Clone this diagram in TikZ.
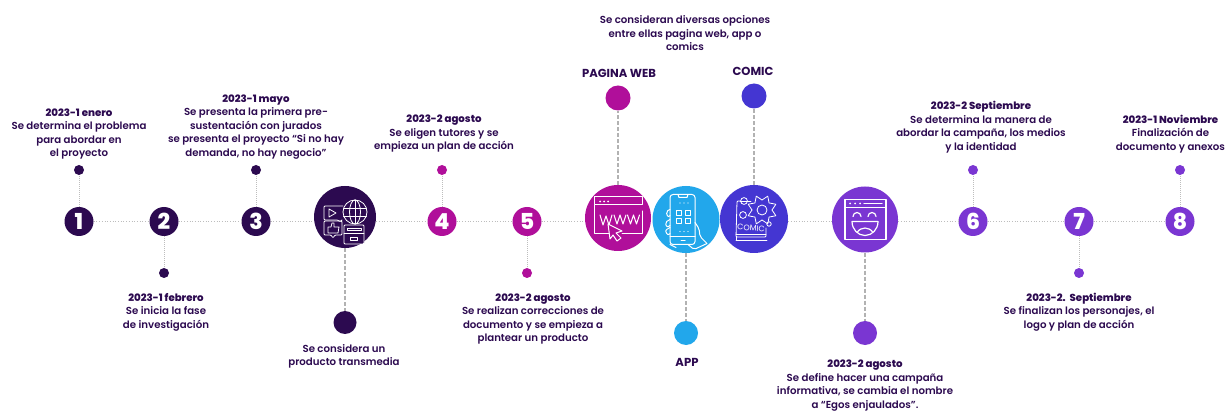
\documentclass[tikz,border=0pt]{standalone}
\usepackage{fontspec}
\setmainfont{Poppins SemiBold}[BoldFont={Poppins ExtraBold}]
\newfontfamily\pb{Poppins Bold}
\newfontfamily\pl{Poppins}
\usetikzlibrary{calc}
\definecolor{cdark}{HTML}{2C0A50}
\definecolor{cmag}{HTML}{B00F9A}
\definecolor{cblue}{HTML}{22A7EB}
\definecolor{cind}{HTML}{4436D2}
\definecolor{cvio}{HTML}{7A36D2}
\definecolor{cgrayl}{HTML}{BDBDBD}
\newcommand{\hd}[1]{{\fontsize{10.2}{13.5}\selectfont\bfseries #1}}
\tikzset{
  x=1pt,y=-1pt,
  numdisc/.style={circle,minimum size=29pt,inner sep=0pt,text=white,font=\fontsize{22}{22}\selectfont\bfseries},
  dotsmall/.style={circle,minimum size=10pt,inner sep=0pt},
  dotbig/.style={circle,minimum size=24pt,inner sep=0pt},
  icondisc/.style={circle,minimum size=66pt,inner sep=0pt},
  caption/.style={align=center,text=cdark,inner sep=0pt,yshift=-1pt,font=\fontsize{10.2}{13.5}\selectfont},
  label/.style={align=center,text=cdark,inner sep=0pt,font=\fontsize{11.6}{13}\selectfont\pb},
  hline/.style={cgrayl,line width=0.7pt,dotted},
  vthin/.style={cgrayl,line width=1pt,densely dotted},
  vthick/.style={gray!60,line width=1.2pt,dash pattern=on 4pt off 2pt},
  ico/.style={white,line width=0.9pt,line join=round,line cap=round},
}
\begin{document}
\begin{tikzpicture}
\useasboundingbox (0,0) rectangle (1230,411);
\fill[white] (0,0) rectangle (1230,411);
% discs
\node[numdisc,fill=cdark] (n1) at (79,221.5) {1};
\node[numdisc,fill=cdark] (n2) at (164,221.5) {2};
\node[numdisc,fill=cdark] (n3) at (256,221.5) {3};
\node[icondisc,fill=cdark,minimum size=62pt] (tm) at (345,217) {};
\node[numdisc,fill=cmag] (n4) at (442,221.5) {4};
\node[numdisc,fill=cmag] (n5) at (527,221.5) {5};
\node[icondisc,fill=cmag] (www) at (618,218) {};
\node[icondisc,fill=cblue,minimum size=67pt] (app) at (686,219.5) {};
\node[icondisc,fill=cind,minimum size=68pt] (com) at (754,219) {};
\node[icondisc,fill=cvio] (face) at (865,219.5) {};
\node[numdisc,fill=cvio] (n6) at (973,221.5) {6};
\node[numdisc,fill=cvio] (n7) at (1079,221.5) {7};
\node[numdisc,fill=cvio] (n8) at (1180,221.5) {8};
% dots
\node[dotsmall,fill=cdark] (d1) at (79,170) {};
\node[dotsmall,fill=cdark] (d2) at (164,273) {};
\node[dotsmall,fill=cdark] (d3) at (256,170) {};
\node[dotbig,fill=cdark,minimum size=23pt] (dtm) at (345,322.5) {};
\node[dotsmall,fill=cmag] (d4) at (442,170) {};
\node[dotsmall,fill=cmag] (d5) at (527,273) {};
\node[dotbig,fill=cmag,minimum size=25pt] (dwww) at (618,98) {};
\node[dotbig,fill=cblue] (dapp) at (686,333) {};
\node[dotbig,fill=cind,minimum size=25pt] (dcom) at (754,96) {};
\node[dotbig,fill=cvio] (dface) at (865,333) {};
\node[dotsmall,fill=cvio] (d6) at (973,170) {};
\node[dotsmall,fill=cvio] (d7) at (1079,273) {};
\node[dotsmall,fill=cvio] (d8) at (1180,170) {};
% connectors
\draw[hline] (n1)--(n2);
\draw[hline] (n2)--(n3);
\draw[hline] (n3)--(n3-|tm.west);
\draw[hline] (n3-|tm.east)--(n4);
\draw[hline] (n4)--(n5);
\draw[hline] (n5)--(n5-|www.west);
\draw[hline] (n6-|com.east)--(n6-|face.west);
\draw[hline] (n6-|face.east)--(n6);
\draw[hline] (n6)--(n7);
\draw[hline] (n7)--(n8);
\draw[vthin] (n1)--(d1);
\draw[vthin] (n2)--(d2);
\draw[vthin] (n3)--(d3);
\draw[vthin] (n4)--(d4);
\draw[vthin] (n5)--(d5);
\draw[vthin] (n6)--(d6);
\draw[vthin] (n7)--(d7);
\draw[vthin] (n8)--(d8);
\draw[vthick] (tm)--(dtm);
\draw[vthick] (www)--(dwww);
\draw[vthick] (app)--(dapp);
\draw[vthick] (com)--(dcom);
\draw[vthick] (face)--(dface);
% captions
\node[caption] (t1) at (79,133) {\hd{2023-1 enero}\\Se determina el problema\\para abordar en\\el proyecto};
\node[caption] (t2) at (166,311) {\hd{2023-1 febrero}\\Se inicia la fase\\de investigación};
\node[caption] (t3) at (256,126) {\hd{2023-1 mayo}\\Se presenta la primera pre-\\sustentación con jurados\\se presenta el proyecto “Si no hay\\demanda, no hay negocio”};
\node[caption] (ttm) at (344,355.5) {Se considera un\\producto transmedia};
\node[caption] (t4) at (444,133) {\hd{2023-2 agosto}\\Se eligen tutores y se\\empieza un plan de acción};
\node[caption] (t5) at (533,318) {\hd{2023-2 agosto}\\Se realizan correcciones de\\documento y se empieza a\\plantear un producto};
\node[caption] (ttop) at (685,32.5) {Se consideran diversas opciones\\entre ellas pagina web, app o\\comics};
\node[label] (twww) at (619,73.5) {PAGINA WEB};
\node[label] (tcom) at (753,71.5) {COMIC};
\node[label] (tapp) at (687,362) {APP};
\node[caption] (tface) at (865,384.5) {\hd{2023-2 agosto}\\Se define hacer una campaña\\informativa, se cambia el nombre\\a “Egos enjaulados”.};
\node[caption] (t6) at (981,126) {\hd{2023-2 Septiembre}\\Se determina la manera de\\abordar la campaña, los medios\\y la identidad};
\node[caption] (t7) at (1079,311) {\hd{2023-2.\ \ Septiembre}\\Se finalizan los personajes, el\\logo y plan de acción};
\node[caption] (t8) at (1170.5,133) {\hd{2023-1 Noviembre}\\Finalización de\\documento y anexos};
% transmedia icon
\begin{scope}[shift={(345,217)},ico,line width=0.8pt]
  \draw[rounded corners=1pt] (-2,-11)--(-21,-11)--(-21,3)--(-7,3)--(-5,5)--(-3,3);
  \draw (-16,-8)--(-9,-4)--(-16,0)--cycle;
  \draw[rounded corners=1pt] (-3,4)--(-21,4)--(-21,18)--(-14,18)--(-12,21)--(-10,18)--(-3,18)--cycle;
  \draw (-17,10)--(-17,16)--(-7,16)--(-6,10)--(-11,10)--(-11,6)--(-13,6)--(-14,10)--cycle;
  \draw (10,-5) circle (12);
  \draw (10,-5) ellipse (5.5 and 12);
  \draw (-1.5,-9)--(21.5,-9) (-1.5,-1)--(21.5,-1) (10,-17)--(10,7);
  \draw[fill=cdark,rounded corners=1pt] (-1,8)--(19,8)--(19,27)--(-1,27)--cycle;
  \draw (-1,16)--(19,16);
  \draw (2,11.5) rectangle (16,13);
  \draw (5,20.5) rectangle (12,23.5);
\end{scope}
% www icon
\begin{scope}[shift={(618,218)},ico,line width=1pt]
  \draw (-24,-21) rectangle (24,-13);
  \draw (-24,-13)--(-24,16)--(-8,16) (4,16)--(24,16)--(24,-7);
  \foreach \i in {-18,-14,-10} \fill[white] (\i,-16.5) circle (1);
  \draw (-18,-3)--(-15,7)--(-12,-2)--(-9,7)--(-6,-3);
  \draw (-4,-3)--(-1,6)--(2,-3)--(5,6)--(8,-3);
  \draw (9.5,-3)--(12.5,6)--(15.5,-3)--(18.5,6)--(21.5,-3);
  \draw[fill=cmag] (-10,6)--(4,13)--(-2,15)--(3,20)--(-1,23)--(-5,17)--(-8,21)--cycle;
\end{scope}
% app icon
\begin{scope}[shift={(686,219.5)},ico,line width=1pt]
  \draw[rounded corners=3pt] (-16,-25) rectangle (9,25);
  \draw (-8,-25)--(-7,-22)--(1,-22)--(2,-25);
  \draw (-16,17)--(9,17);
  \draw (-5,21)--(-1,21);
  \foreach \i in {-6,-2,2} \fill[white] (\i,-16.5) circle (.7);
  \foreach \i in {-6,-2,2} \fill[white] (\i,12) circle (.7);
  \draw (-10,-9) rectangle (-5,-4) (-1,-9) rectangle (4,-4);
  \draw (-10,-1) rectangle (-5,4) (-1,-1) rectangle (4,4);
  \draw[rounded corners=2pt] (-16,-10)--(-20,-8)--(-18,-2)--(-16,-4);
  \draw[rounded corners=2pt] (-16,0)--(-21,3)--(-19,8)--(-16,6);
  \draw[rounded corners=2pt] (-16,8)--(-21,11)--(-18,16)--(-16,14);
  \draw[rounded corners=2pt] (9,3)--(13,9)--(14,17)--(21,24)  (-16,25)--(-10,28) (2,25)--(8,30)--(21,24);
\end{scope}
% comic icon
\begin{scope}[shift={(754,219)},ico,line width=.8pt]
  \draw[rounded corners=1pt] (-14,-18)--(-17,-18)--(-18,18)--(12,18)--(12,9);
  \draw (-18,15)--(12,15) (-18,21)--(13,21);
  \draw (-18,18)--(-18,21);
  \draw (-14,-18)--(-3,-18);
  \draw (8,-9) circle (5);
  \foreach \a in {0,45,...,315} {
    \draw ($(8,-9)+(\a:10)$)--($(8,-9)+(\a+22.5:15)$)--($(8,-9)+(\a+45:10)$);
  }
  \draw (-10,-18) circle (3.4);
  \draw (-11,-4) circle (3.4);
  \draw (15,5) circle (2.2);
  \node[white,font=\fontsize{8}{8}\selectfont\pl,inner sep=0pt,rotate=-4] (cw) at (-3,9) {COMIC};
\end{scope}
% face icon
\begin{scope}[shift={(865,219.5)},ico,line width=1.2pt]
  \draw (-20,-20) rectangle (21,20);
  \draw (-20,-12)--(21,-12);
  \foreach \i in {-15,-10,-5} \fill[white] (\i,-16) circle (1);
  \draw (-1,-16)--(17,-16);
  \draw (-12,-3) arc (180:360:4);
  \draw (3,-3) arc (180:360:4);
  \draw (-13,2)--(13,2) arc (0:180:13 and 14) --cycle;
  \draw (-8,13) .. controls (-4,7) and (4,7) .. (8,13);
\end{scope}
\end{tikzpicture}
\end{document}
